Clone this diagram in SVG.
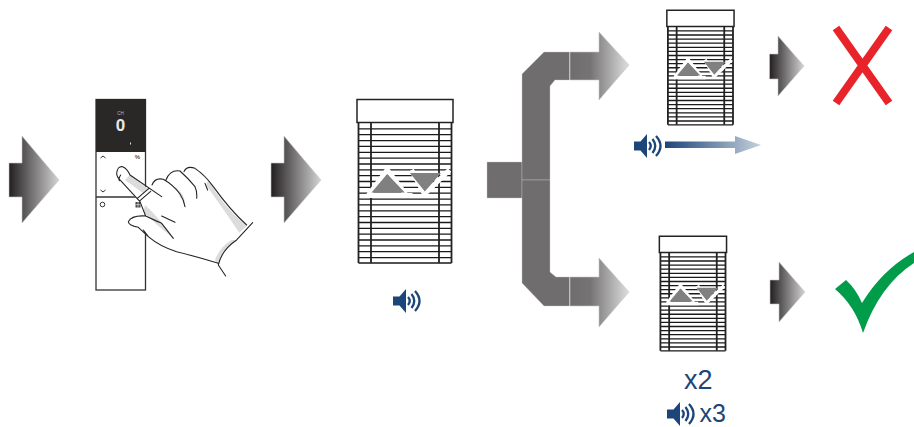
<svg xmlns="http://www.w3.org/2000/svg" xmlns:xlink="http://www.w3.org/1999/xlink" width="914" height="427" viewBox="0 0 914 427">
<style>
text{font-family:"Liberation Sans",Arial,sans-serif}
.dark{fill:url(#gDark);stroke:#c8c8c8;stroke-width:.6}
.elbow{fill:#6f6d6e;stroke:#c8c8c8;stroke-width:.4}
.big{fill:url(#gBig);stroke:#c8c8c8;stroke-width:.6}
.hand{fill:none;stroke:#222;stroke-width:3.2;stroke-linecap:round;stroke-linejoin:round}
.shade{fill:#dcdcdc;stroke:none}
.lbl{fill:#1c4679;font-size:27px}
</style>
<defs>
<linearGradient id="gDark"><stop offset="0" stop-color="#231f20"/><stop offset="1" stop-color="#d4d4d4"/></linearGradient>
<linearGradient id="gBig"><stop offset="0" stop-color="#6f6d6e"/><stop offset=".35" stop-color="#767475"/><stop offset="1" stop-color="#dedede"/></linearGradient>
<linearGradient id="gBlue"><stop offset="0" stop-color="#1c4679"/><stop offset="1" stop-color="#c6d0dc"/></linearGradient>
<g id="blind">
<rect x="0.5" y="0.500" width="96" height="23" fill="#fff" stroke="#222" stroke-width="1.500" vector-effect="non-scaling-stroke"/>
<path fill="none" stroke="#1a1a1a" stroke-width="1.300" vector-effect="non-scaling-stroke" d="M2 29.9H95M2 35.7H95M2 41.6H95M2 47.4H95M2 53.3H95M2 59.1H95M2 65H95M2 70.8H95M2 76.7H95M2 82.5H95M2 88.4H95M2 94.2H95M2 100.1H95M2 105.9H95M2 111.8H95M2 117.6H95M2 123.5H95M2 129.3H95M2 135.2H95M2 141H95M2 146.9H95M2 152.7H95M2 158.6H95M2 164H95"/>
<path fill="none" stroke="#222" stroke-width="1.800" vector-effect="non-scaling-stroke" d="M2 24V164M95 24V164M14.5 24V164M82.5 24V164"/>
<g fill="none" stroke="#fff" stroke-width="5">
<path d="M12 96L30.7 71L49 95"/>
<path d="M11 96.500H56"/>
<path d="M55 71L68 95L93 71"/>
</g>
<path fill="#808080" d="M15 93.500L30.7 75L48.3 93.500ZM53.500 74H84.500L68.3 92.500Z"/>
</g>
<g id="speaker" fill="#1c4679">
<path d="M0 7.500H6.500L13 0V24L6.500 16.500H0Z"/>
<path fill="none" stroke="#1c4679" stroke-width="2.300" d="M15 8Q18.500 12 15 16M18.500 5Q24 12 18.500 19M22 2Q31 12 22 22"/>
</g>
</defs>

<g id="connectors">
<path id="arrow-in" class="dark" d="M9 163H22V136L59 180L22 223V197H9Z"/>
<path id="arrow-remote-blind" class="dark" d="M271 163H284V136L321 180L284 223V197H271Z"/>
<path id="stem" class="elbow" d="M487 162H522V198H487Z"/>
<path id="elbow-up" class="elbow" d="M522 180V74L544 52H569.500V80H555L550 86V180Z"/>
<path id="elbow-down" class="elbow" d="M522 180V283L544 306H569.500V277H556L550 272V180Z"/>
<path id="arrow-up" class="big" d="M570 52H599V32L629 65L599 100V80H570Z"/>
<path id="arrow-down" class="big" d="M570 277H599V258L629 292L599 327V306H570Z"/>
<path id="arrow-blue" d="M665 141.500H735V136L761 145L735 154V148H665Z" fill="url(#gBlue)"/>
<path id="arrow-x" class="dark" d="M769.500 54H778V36L804 66L778 96V79H769.500Z"/>
<path id="arrow-check" class="dark" d="M770 280H779V262L805 292L779 322V304H770Z"/>
</g>

<g id="remote">
<rect x="96" y="99.500" width="49.500" height="190.500" fill="#fff" stroke="#333" stroke-width="1.300"/>
<rect x="96" y="99" width="50" height="53" fill="#2a2827"/>
<path d="M96 197H146" stroke="#333" stroke-width="1.300"/>
<text x="120.500" y="114.500" font-size="4.500" fill="#bbb" text-anchor="middle">CH</text>
<text x="120.500" y="131" font-size="17" font-weight="bold" fill="#e8e8e8" text-anchor="middle">0</text>
<rect x="130" y="142.500" width="1" height="2" fill="#ddd"/>
<text x="137.500" y="159" font-size="6" font-weight="bold" fill="#555" text-anchor="middle">%</text>
<path d="M100.500 158L103 156L105.500 158M100.500 190L103 192L105.500 190" fill="none" stroke="#333"/>
<circle cx="102.500" cy="204.500" r="2.300" fill="none" stroke="#333"/>
<path d="M135.500 202H140.500V207.500H135.500Z" fill="#444"/>
<path d="M138 202V207.500M135.500 204.700H140.500" stroke="#fff" stroke-width=".6"/>
</g>

<g id="hand" transform="translate(80 90) scale(.3333)">
<path fill="#fff" d="M110 250Q112 228 128 230Q142 236 150 255L205 297L216 285Q225 262 258 270Q270 238 312 245Q320 226 345 235Q375 255 400 290Q450 360 500 408L518 398L470 450Q425 480 415 525Q350 500 290 485Q240 470 205 440L170 412Q145 405 145 395Q155 375 197 378L180 335L112 270Z"/>
<path class="shade" d="M150 255L205 297L190 310L135 270ZM195 345Q240 385 280 445Q235 410 190 365ZM285 290Q315 310 315 345L298 315ZM385 270Q430 350 500 408L478 428Q425 350 378 285ZM470 450Q425 480 415 525L405 510Q420 470 455 450Z"/>
<path class="hand" d="M110 250Q112 228 128 230Q142 236 150 255L245 320M110 250Q110 262 122 272L180 335L197 378L245 400L280 445M216 285Q225 262 250 268Q280 285 300 312Q312 330 315 350M258 270Q270 238 300 243Q325 265 345 290Q352 305 350 325M312 245Q320 226 345 235Q375 255 400 290Q450 360 500 405M518 398L470 450Q425 480 415 525L437 558M415 520Q350 500 290 485Q240 470 205 440L175 412Q145 405 145 395Q155 375 197 378L235 396M375 280L383 300M245 378L285 397M190 420L205 440M172 325L206 296M180 332L212 304M122 255Q115 265 118 272"/>
</g>

<g id="blind-main"><use xlink:href="#blind" href="#blind" transform="translate(356.500 99)"/></g>
<g id="speaker-main"><use xlink:href="#speaker" href="#speaker" transform="translate(393 289)"/></g>

<g id="blind-top"><use xlink:href="#blind" href="#blind" transform="translate(666.500 10) scale(.7)"/></g>
<g id="speaker-top"><use xlink:href="#speaker" href="#speaker" transform="translate(634 134)"/></g>

<g id="blind-bottom"><use xlink:href="#blind" href="#blind" transform="translate(659 236) scale(.7)"/></g>
<g id="label-x2"><text class="lbl" x="684" y="389">x2</text></g>
<g id="label-x3">
<use xlink:href="#speaker" href="#speaker" transform="translate(667 402)"/>
<text x="699.500" y="421.500" style="fill:#1c4679;font-size:25px">x3</text>
</g>

<g id="cross"><path d="M836 28L889 103M889 28L836 103" stroke="#e8232a" stroke-width="8" fill="none"/></g>
<g id="check"><path d="M835 289L846 280Q856 289 862 303Q882 270 914 252V263Q880 285 863 333Q855 306 835 289Z" fill="#009c49"/></g>
</svg>
